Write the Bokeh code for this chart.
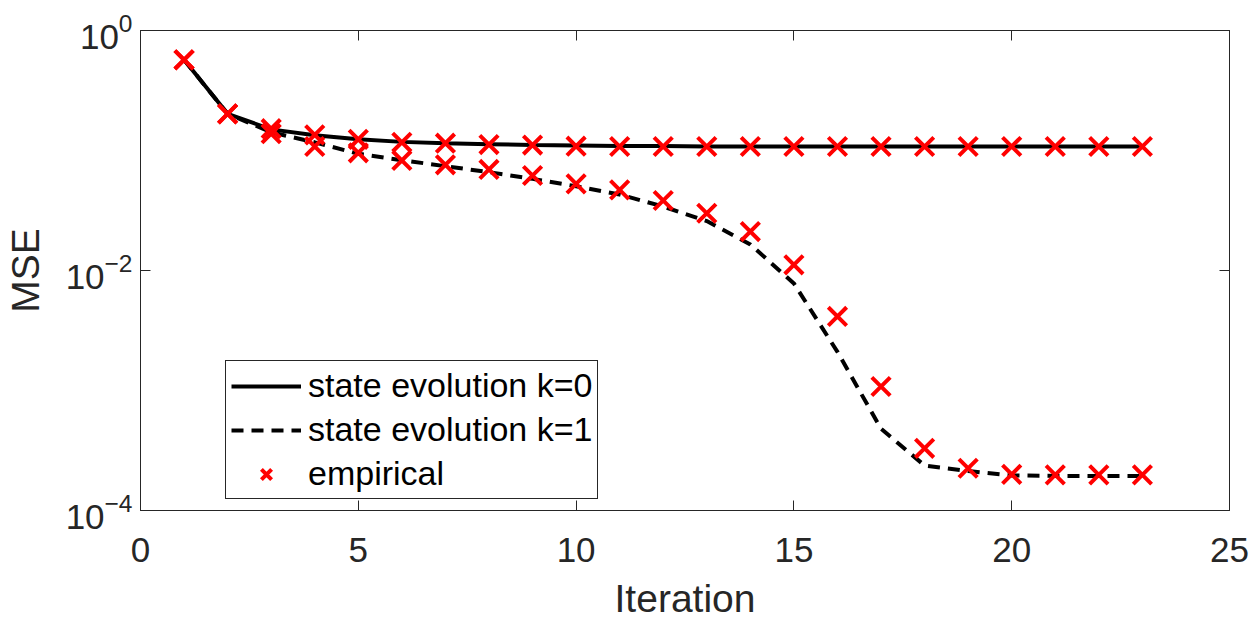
from bokeh.plotting import figure
from bokeh.models import (FixedTicker, LinearAxis, LogAxis, Legend, LegendItem,
                          Range1d)
from bokeh.embed import file_html
from bokeh.resources import INLINE

# Iteration index
iterations = list(range(1, 24))

# State-evolution MSE predictions
se_k0 = [0.570, 0.202, 0.150, 0.134, 0.124, 0.118, 0.115, 0.113, 0.111, 0.110,
         0.109, 0.109, 0.108, 0.108, 0.108, 0.108, 0.108, 0.108, 0.108, 0.108,
         0.108, 0.108, 0.108]
se_k1 = [0.570, 0.202, 0.142, 0.117, 0.094, 0.083, 0.074, 0.066, 0.058, 0.0504,
         0.043, 0.0341, 0.0258, 0.0165, 0.0078, 0.0021, 0.00048, 0.000237,
         0.000213, 0.000196, 0.000194, 0.000194, 0.000194]

# Empirical MSE from simulation
emp_k0 = [0.570, 0.202, 0.152, 0.135, 0.124, 0.117, 0.115, 0.112, 0.111, 0.1086,
          0.108, 0.108, 0.108, 0.108, 0.108, 0.108, 0.108, 0.108, 0.108, 0.108,
          0.108, 0.108, 0.108]
emp_k1 = [0.570, 0.202, 0.138, 0.108, 0.0957, 0.0826, 0.076, 0.0695, 0.0619,
          0.0527, 0.047, 0.0383, 0.030, 0.0211, 0.01115, 0.00414, 0.00108,
          0.00033, 0.000225, 0.0002, 0.000198, 0.000198, 0.000198]

x_ticks = [0, 5, 10, 15, 20, 25]
y_ticks = [1e-4, 1e-2, 1e0]

INK = "#262626"
FONT = "Liberation Sans"

p = figure(width=1250, height=625, y_axis_type="log",
           x_range=Range1d(0, 25), y_range=Range1d(1e-4, 1),
           output_backend="svg", toolbar_location=None,
           min_border_left=137, min_border_right=21,
           min_border_top=30, min_border_bottom=115)

p.background_fill_color = "white"
p.border_fill_color = "white"
p.grid.visible = False
p.outline_line_color = INK
p.outline_line_width = 1

r0 = p.line(iterations, se_k0, line_color="black", line_width=4)
r1 = p.line(iterations, se_k1, line_color="black", line_width=4,
            line_dash="12 8")
m0 = p.scatter(iterations, emp_k0, marker="x", size=26, line_color="#ff0000",
               line_width=4)
m1 = p.scatter(iterations, emp_k1, marker="x", size=26, line_color="#ff0000",
               line_width=4)


def style_axis(ax):
    ax.axis_line_color = INK
    ax.major_tick_line_color = INK
    ax.major_tick_in = 10
    ax.major_tick_out = 0
    ax.minor_tick_line_color = None
    ax.major_label_text_font = FONT
    ax.major_label_text_color = INK
    ax.major_label_text_font_size = "35px"
    ax.axis_label_text_font = FONT
    ax.axis_label_text_color = INK
    ax.axis_label_text_font_size = "39px"
    ax.axis_label_text_font_style = "normal"


xa = p.xaxis[0]
xa.ticker = FixedTicker(ticks=x_ticks)
xa.axis_label = "Iteration"
style_axis(xa)
xa.major_label_standoff = 27
xa.axis_label_standoff = 12

ya = p.yaxis[0]
ya.ticker = FixedTicker(ticks=y_ticks)
ya.axis_label = "MSE"
style_axis(ya)
ya.major_label_standoff = 8
ya.axis_label_standoff = 16

# Mirrored tick marks on the top and right edges of the frame
top = LinearAxis(ticker=FixedTicker(ticks=x_ticks))
style_axis(top)
top.major_label_overrides = {t: "" for t in x_ticks}
top.major_label_standoff = 0
p.add_layout(top, "above")

right = LogAxis(ticker=FixedTicker(ticks=y_ticks))
style_axis(right)
right.major_label_overrides = {t: "" for t in y_ticks}
right.major_label_standoff = 0
p.add_layout(right, "right")

legend = Legend(items=[
    LegendItem(label="state evolution k=0", renderers=[r0]),
    LegendItem(label="state evolution k=1", renderers=[r1]),
    LegendItem(label="empirical", renderers=[m0]),
], location=(85, 11))
legend.label_text_font = FONT
legend.label_text_font_size = "34px"
legend.label_text_color = "black"
legend.glyph_width = 70
legend.glyph_height = 36
legend.label_height = 36
legend.label_standoff = 7
legend.padding = 5
legend.spacing = 5
legend.margin = 0
legend.border_line_color = INK
legend.border_line_alpha = 1
legend.border_line_width = 1
legend.background_fill_color = "white"
legend.background_fill_alpha = 1
p.add_layout(legend, "center")

open("out.html", "w").write(file_html(p, INLINE))
